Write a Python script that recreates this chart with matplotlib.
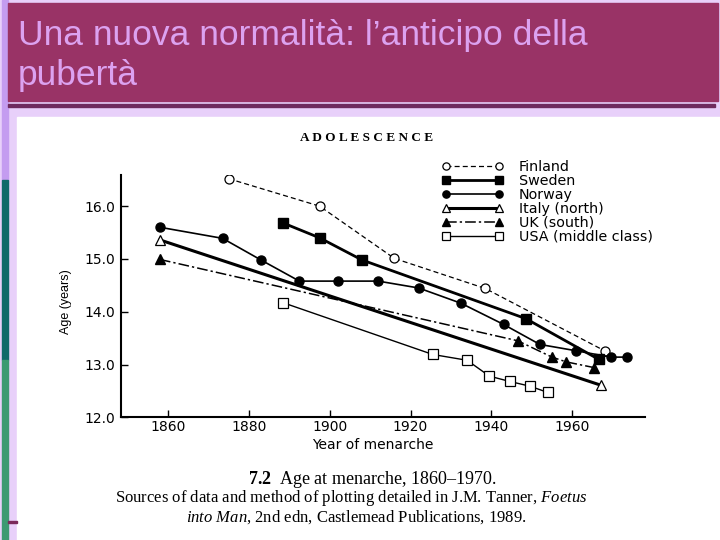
import matplotlib
matplotlib.use("Agg")
import matplotlib.pyplot as plt
from matplotlib.patches import Rectangle

# dati (anno del menarca, età in anni)
finland_years = [1875, 1897.5, 1916, 1938.5, 1968]
finland_age = [16.52, 16.0, 15.01, 14.44, 13.26]

sweden_years = [1888.5, 1897.5, 1908, 1948.5, 1966.5]
sweden_age = [15.68, 15.40, 14.98, 13.87, 13.10]

norway_years = [1858, 1873.5, 1883, 1892.5, 1902, 1912, 1922, 1932.5, 1943, 1952, 1961, 1969.5, 1973.5]
norway_age = [15.60, 15.39, 14.98, 14.58, 14.58, 14.58, 14.45, 14.16, 13.76, 13.38, 13.26, 13.14, 13.14]

italy_years = [1858, 1967]
italy_age = [15.36, 12.61]

uk_years = [1858, 1946.5, 1955, 1958.5, 1965.5]
uk_age = [14.99, 13.45, 13.14, 13.05, 12.94]

usa_years = [1888.5, 1925.5, 1934, 1939.5, 1944.5, 1949.5, 1954]
usa_age = [14.17, 13.19, 13.08, 12.78, 12.68, 12.59, 12.47]

x_ticks = [1860, 1880, 1900, 1920, 1940, 1960]
y_ticks = [12.0, 13.0, 14.0, 15.0, 16.0]

titolo_1 = "Una nuova normalità: l’anticipo della"
titolo_2 = "pubertà"

plt.rcParams['mathtext.fontset'] = 'custom'
plt.rcParams['mathtext.rm'] = 'Liberation Serif'
plt.rcParams['mathtext.it'] = 'Liberation Serif:italic'
plt.rcParams['mathtext.bf'] = 'Liberation Serif:bold'

W, H = 720, 540
fig = plt.figure(figsize=(7.2, 5.4), dpi=100)

# sfondo della slide, in pixel
bg = fig.add_axes([0, 0, 1, 1])
bg.set_xlim(0, W)
bg.set_ylim(H, 0)
bg.axis('off')
bg.add_patch(Rectangle((0, 0), W, H, color='#e8d0fa'))
bg.add_patch(Rectangle((2, 0), 6, 180, color='#c49cf0'))
bg.add_patch(Rectangle((2, 180), 6, 180, color='#0f6a6a'))
bg.add_patch(Rectangle((2, 360), 6, 180, color='#3c9a72'))
bg.add_patch(Rectangle((8, 3), 710, 98, color='#993366'))
bg.add_patch(Rectangle((8, 104), 707, 3, color='#6e2a5e'))
bg.add_patch(Rectangle((17, 117), 703, 423, color='white'))
bg.add_patch(Rectangle((8, 521), 9, 2, color='#7a2a5a'))
bg.text(18, 45, titolo_1, color='#dca2f0', fontsize=25.5, family='Liberation Sans',
        va='baseline', ha='left')
bg.text(18, 85, titolo_2, color='#dca2f0', fontsize=25.5, family='Liberation Sans',
        va='baseline', ha='left')

# pannello del grafico
left, right, bottom, top = 120.7, 645, 417.3, 175
ax = fig.add_axes([left / W, 1 - bottom / H, (right - left) / W, (bottom - top) / H])
ax.patch.set_alpha(0)

ax.plot(finland_years, finland_age, color='black', lw=0.9, ls=(0, (4, 2.5)),
        marker='o', ms=6.5, mfc='white', mec='black', mew=0.9, label='Finland')
ax.plot(sweden_years, sweden_age, color='black', lw=2.0, marker='s', ms=6.5,
        mfc='black', mec='black', label='Sweden')
ax.plot(norway_years, norway_age, color='black', lw=1.2, marker='o', ms=6.5,
        mfc='black', mec='black', label='Norway')
ax.plot(italy_years, italy_age, color='black', lw=2.2, marker='^', ms=6.5,
        mfc='white', mec='black', mew=0.9, label='Italy (north)')
ax.plot(uk_years, uk_age, color='black', lw=1.1, ls=(0, (7, 2, 1.5, 2)),
        marker='^', ms=6.5, mfc='black', mec='black', label='UK (south)')
ax.plot(usa_years, usa_age, color='black', lw=1.0, marker='s', ms=6.5,
        mfc='white', mec='black', mew=0.9, label='USA (middle class)')

ax.set_xlim(1848.3, 1978)
ax.set_ylim(12.0, 16.59)
ax.set_xticks(x_ticks)
ax.set_yticks(y_ticks)
ax.set_yticklabels(['%.1f' % v for v in y_ticks])
for s in ['top', 'right']:
    ax.spines[s].set_visible(False)
for s in ['left', 'bottom']:
    ax.spines[s].set_linewidth(1.5)
ax.tick_params(direction='in', length=5, width=1, labelsize=10)
ax.tick_params(axis='y', pad=4)
ax.tick_params(axis='x', pad=2)

leg = ax.legend(loc='upper left', bbox_to_anchor=(441.7 / W, 1 - 160 / H),
                bbox_transform=fig.transFigure, frameon=False, numpoints=2,
                fontsize=10.3, handlelength=4.3, handletextpad=1.1,
                labelspacing=0.0, borderpad=0, borderaxespad=0, markerscale=0.8)

fig.text(66 / W, 1 - 302 / H, 'Age (years)', rotation=90, ha='center', va='center',
         fontsize=9, family='Liberation Sans')
fig.text(373 / W, 1 - 445 / H, 'Year of menarche', ha='center', va='center', fontsize=10)
fig.text(367 / W, 1 - 138 / H, 'A D O L E S C E N C E', ha='center', va='center',
         fontsize=9.5, family='Liberation Serif', weight='bold')

fig.text(372 / W, 1 - 479 / H, r'$\mathbf{7.2}$  Age at menarche, 1860–1970.',
         ha='center', va='center', fontsize=13, family='Liberation Serif')
fig.text(351 / W, 1 - 498 / H,
         r'Sources of data and method of plotting detailed in J.M. Tanner, $\mathit{Foetus}$',
         ha='center', va='center', fontsize=12, family='Liberation Serif')
fig.text(356 / W, 1 - 517 / H,
         r'$\mathit{into\ Man}$, 2nd edn, Castlemead Publications, 1989.',
         ha='center', va='center', fontsize=12, family='Liberation Serif')

fig.savefig('out.png', dpi=100)
